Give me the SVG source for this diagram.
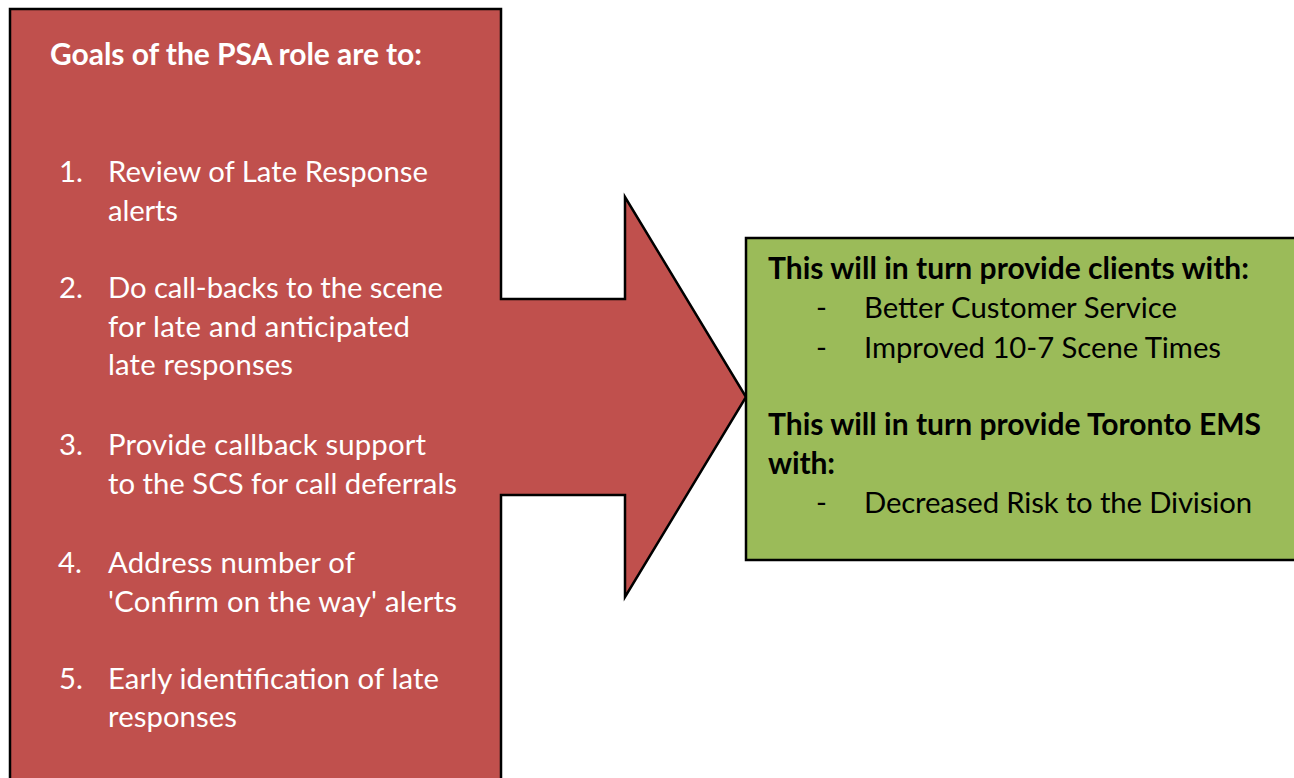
<svg xmlns="http://www.w3.org/2000/svg" width="1294" height="778" viewBox="0 0 1294 778">
<style>
.shape{stroke:#000;stroke-width:2.5;stroke-linejoin:miter}
.w{fill:#fff;font-family:Lato,"Liberation Sans",sans-serif;font-size:29.3px}
.k{fill:#000;font-family:Lato,"Liberation Sans",sans-serif;font-size:29.3px}
.b{font-weight:bold;font-size:30px}
</style>
<rect width="1294" height="778" fill="#fff"/>
<g id="goals">
<path class="shape" fill="#C0504D" d="M10,9 H501 V299 H625 V197 L746,397 L625,597 V495 H501 V800 H10 Z"/>
<text class="w b" x="50" y="65" textLength="372">Goals of the PSA role are to:</text>
<g class="w">
<text x="59" y="182">1.</text><text x="108" y="182" textLength="320">Review of Late Response</text>
<text x="108" y="221" textLength="70">alerts</text>
<text x="59" y="298">2.</text><text x="108" y="298" textLength="335">Do call-backs to the scene</text>
<text x="108" y="337" textLength="302">for late and anticipated</text>
<text x="108" y="375" textLength="185">late responses</text>
<text x="59" y="455">3.</text><text x="108" y="455" textLength="318">Provide callback support</text>
<text x="108" y="494" textLength="349">to the SCS for call deferrals</text>
<text x="58" y="573">4.</text><text x="108" y="573" textLength="247">Address number of</text>
<text x="108" y="612" textLength="349">'Confirm on the way' alerts</text>
<text x="59" y="689">5.</text><text x="108" y="689" textLength="331">Early identification of late</text>
<text x="108" y="727" textLength="129">responses</text>
</g>
</g>
<g id="benefits">
<rect class="shape" fill="#9BBB59" x="746" y="238" width="560" height="322"/>
<g class="k">
<text class="b" x="768" y="279" textLength="481">This will in turn provide clients with:</text>
<text x="816" y="318">-</text><text x="864" y="318" textLength="313">Better Customer Service</text>
<text x="816" y="358">-</text><text x="864" y="358" textLength="357">Improved 10-7 Scene Times</text>
<text class="b" x="768" y="435" textLength="493">This will in turn provide Toronto EMS</text>
<text class="b" x="768" y="474" textLength="67">with:</text>
<text x="816" y="513">-</text><text x="864" y="513" textLength="388">Decreased Risk to the Division</text>
</g>
</g>
<g id="connectors"></g>
</svg>
